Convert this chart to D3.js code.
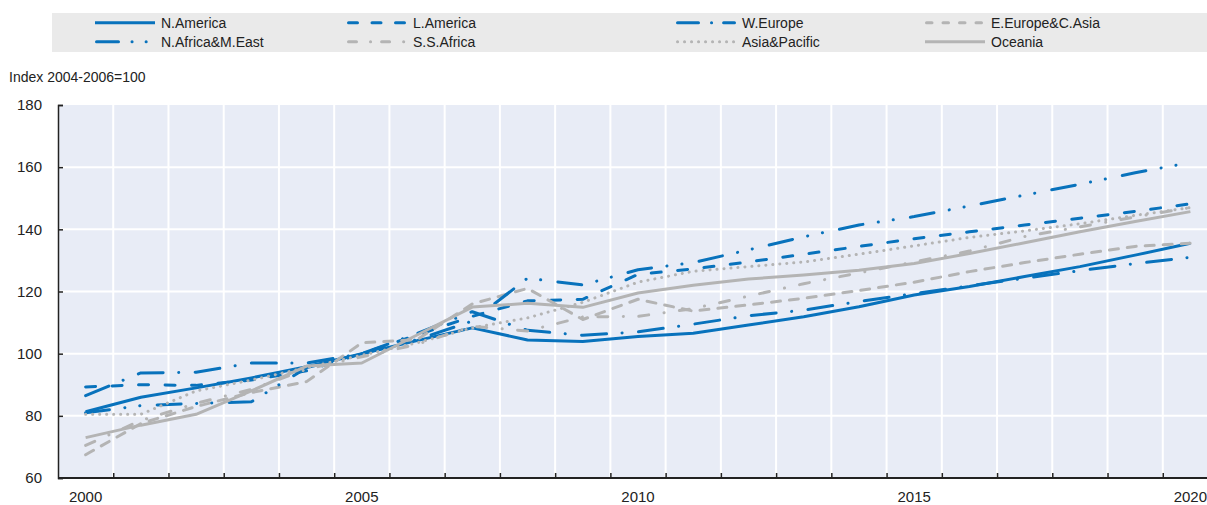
<!DOCTYPE html>
<html>
<head>
<meta charset="utf-8">
<script src="https://cdnjs.cloudflare.com/ajax/libs/d3/7.8.5/d3.min.js"></script>
<style>
body { margin: 0; background: #fff; }
text { font-family: "Liberation Sans", Arial, sans-serif; fill: #222; }
</style>
</head>
<body>
<svg width="1207" height="505"></svg>
<script>
var years = d3.range(2000, 2021);
var yTicks = [60, 80, 100, 120, 140, 160, 180];
var xLabels = [2000, 2005, 2010, 2015, 2020];
var unitLabel = "Index 2004-2006=100";

var nAmerica    = [81.3, 86, 89, 92.2, 95.8, 100, 104.2, 108.3, 104.4, 103.9, 105.5, 106.6, 109.2, 111.9, 115.1, 118.9, 121.6, 124.8, 128, 131.7, 135.5];
var lAmerica    = [89.3, 90, 89.8, 91.5, 94.5, 100, 106, 112, 117, 117.5, 125.5, 127.3, 129.5, 132, 134.5, 137, 139.2, 141.4, 143.6, 145.8, 148.2];
var wEurope     = [86.5, 93.8, 94, 97, 97, 100, 106.5, 113.5, 107.5, 105.9, 107, 109.5, 112.2, 114, 116.8, 119.3, 121.8, 124.3, 126.7, 129, 131];
var eEurope     = [67.5, 77.5, 83, 87.5, 91, 103.5, 104.5, 116, 121, 111, 117.5, 113.7, 115.7, 117.8, 120.3, 123, 126.4, 129.3, 132, 134.5, 135.5];
var nAfrica     = [81, 83.3, 84, 84.5, 95.5, 100, 104.5, 110.5, 124.3, 122.1, 127, 129.3, 133.4, 137.6, 141.4, 144.1, 147.5, 151, 154.5, 158.2, 161.5];
var ssAfrica    = [70.5, 78.5, 84, 88.5, 95, 99, 103, 108.8, 107.3, 111.8, 112, 114.5, 118.5, 122.5, 126, 129.5, 133, 137.7, 140.8, 144, 147];
var asiaPacific = [80.5, 80.5, 88, 91.5, 95.5, 99.5, 103.5, 108.3, 111.5, 116.5, 123, 126.5, 128, 129.5, 132, 134.7, 137.4, 139.5, 141.8, 144.5, 147];
var oceania     = [73, 77, 80.5, 88, 96, 97, 106, 115, 116.2, 114.9, 119.5, 122, 124, 125.3, 126.8, 129, 132.2, 135.7, 139.2, 142.5, 145.7];

var blue = "#0872bc", grey = "#b4b4b4";

// legend order: row 1 then row 2; keyDash is the shorter pattern used in the legend
var series = [
  {name: "N.America", values: nAmerica, color: blue, dash: null, keyDash: null},
  {name: "L.America", values: lAmerica, color: blue, dash: "10,16.5", keyDash: "9,14.5"},
  {name: "W.Europe", values: wEurope, color: blue, dash: "25,15.5,0.1,16.4", keyDash: "21,13,0.1,12"},
  {name: "E.Europe&C.Asia", values: eEurope, color: grey, dash: "9,9", keyDash: "5.5,11"},
  {name: "N.Africa&M.East", values: nAfrica, color: blue, dash: "24,15.5,0.1,15,0.1,17.3", keyDash: "22,13.5,0.1,14,0.1,14"},
  {name: "S.S.Africa", values: ssAfrica, color: grey, dash: "10,15.5,0.1,15.4", keyDash: "8,14,0.1,11"},
  {name: "Asia&Pacific", values: asiaPacific, color: grey, dash: "0.1,6.9", keyDash: "0.1,6.9"},
  {name: "Oceania", values: oceania, color: grey, dash: null, keyDash: null}
];

var svg = d3.select("svg");
var width = +svg.attr("width"), height = +svg.attr("height");
var plotLeft = 58, plotBottom = 478, plotTop = 105;

var x = d3.scaleLinear().domain([1999.5, 2020.5]).range([plotLeft, 1218]);
var y = d3.scaleLinear().domain([60, 180]).range([plotBottom, plotTop]);

svg.append("defs").append("clipPath").attr("id", "clip")
  .append("rect").attr("x", plotLeft).attr("y", plotTop - 5)
  .attr("width", width - plotLeft).attr("height", plotBottom - plotTop + 5);

// plot background
svg.append("rect")
  .attr("x", plotLeft).attr("y", plotTop)
  .attr("width", width - plotLeft).attr("height", plotBottom - plotTop)
  .attr("fill", "#e8ecf6");

// grid lines
var grid = svg.append("g").attr("clip-path", "url(#clip)");
grid.selectAll(".vg")
  .data(d3.range(2000.5, 2021, 1))
  .enter().append("line")
  .attr("x1", function(d) { return x(d); })
  .attr("x2", function(d) { return x(d); })
  .attr("y1", plotTop).attr("y2", plotBottom)
  .attr("stroke", "#fff").attr("stroke-width", 2);
grid.selectAll(".hg")
  .data(yTicks.slice(1, -1))
  .enter().append("line")
  .attr("x1", plotLeft).attr("x2", width)
  .attr("y1", function(d) { return y(d); })
  .attr("y2", function(d) { return y(d); })
  .attr("stroke", "#fff").attr("stroke-width", 2);

// lines
var line = d3.line()
  .x(function(d, i) { return x(years[i]); })
  .y(function(d) { return y(d); });

var lines = svg.append("g").attr("clip-path", "url(#clip)");
lines.selectAll("path")
  .data(series)
  .enter().append("path")
  .attr("d", function(d) { return line(d.values); })
  .attr("fill", "none")
  .attr("stroke", function(d) { return d.color; })
  .attr("stroke-width", 3)
  .attr("stroke-linejoin", "round")
  .attr("stroke-linecap", function(d) { return d.dash ? "round" : "butt"; })
  .attr("stroke-dasharray", function(d) { return d.dash; });

// axes
var yAxis = d3.axisLeft(y).tickValues(yTicks).tickSize(-5).tickPadding(16);
var gy = svg.append("g").attr("transform", "translate(" + plotLeft + ",0)").call(yAxis);
gy.select(".domain").attr("stroke", "#222").attr("stroke-width", 1.5);
gy.selectAll(".tick line").attr("stroke", "#222").attr("stroke-width", 1.5);
gy.selectAll("text").attr("font-size", 15).attr("fill", "#222");

var xAxis = d3.axisBottom(x).tickValues(d3.range(2000.5, 2020, 1)).tickSize(-5).tickFormat("");
var gx = svg.append("g").attr("transform", "translate(0," + plotBottom + ")").call(xAxis);
gx.select(".domain").attr("d", "M" + plotLeft + ",0H" + width).attr("stroke", "#222").attr("stroke-width", 2);
gx.selectAll(".tick line").attr("stroke", "#222").attr("stroke-width", 1.5);

svg.append("g").selectAll("text")
  .data(xLabels)
  .enter().append("text")
  .attr("x", function(d) { return x(d); })
  .attr("y", 502)
  .attr("text-anchor", "middle")
  .attr("font-size", 15)
  .text(function(d) { return d; });

svg.append("text")
  .attr("x", 9).attr("y", 81.5)
  .attr("font-size", 14)
  .text(unitLabel);

// legend
var legend = svg.append("g");
legend.append("rect")
  .attr("x", 52).attr("y", 13)
  .attr("width", width - 52).attr("height", 39)
  .attr("fill", "#eaeaea");

var colX = [95, 347, 676, 925];
var rowY = [22.7, 41.7];
var item = legend.selectAll(".item")
  .data(series)
  .enter().append("g")
  .attr("transform", function(d, i) { return "translate(" + colX[i % 4] + "," + rowY[Math.floor(i / 4)] + ")"; });
item.append("line")
  .attr("x1", function(d) { return d.keyDash ? 1.5 : 0; })
  .attr("x2", function(d) { return d.keyDash ? 58.5 : 60; })
  .attr("stroke", function(d) { return d.color; })
  .attr("stroke-width", 3)
  .attr("stroke-linecap", function(d) { return d.keyDash ? "round" : "butt"; })
  .attr("stroke-dasharray", function(d) { return d.keyDash; });
item.append("text")
  .attr("x", 66).attr("y", 5.5)
  .attr("font-size", 14)
  .text(function(d) { return d.name; });
</script>
</body>
</html>
